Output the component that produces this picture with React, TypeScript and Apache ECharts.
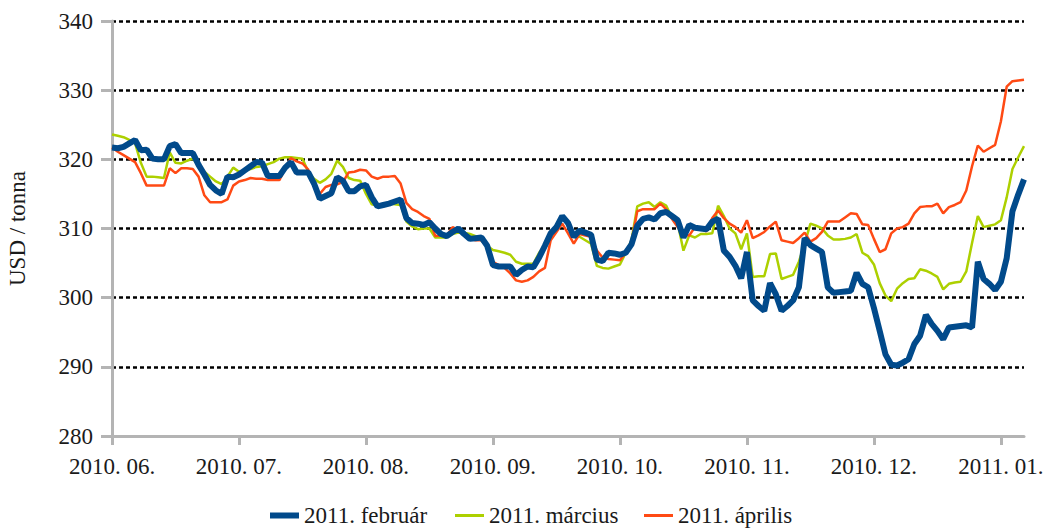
import React, { useEffect, useRef } from "react";
import * as echarts from "echarts";

const MONTH_LABELS = ["2010. 06.", "2010. 07.", "2010. 08.", "2010. 09.", "2010. 10.", "2010. 11.", "2010. 12.", "2011. 01."];
const POINTS_PER_MONTH = 22;
const POINT_COUNT = 159;
const categories = Array.from({ length: POINT_COUNT }, (_, i) => String(i));

const SERIES_NAMES = ["2011. február", "2011. március", "2011. április"];

const febValues = [
  321.7, 321.6, 321.8, 322.3, 322.8, 321.3, 321.4, 320.1, 320.0, 320.0,
  321.9, 322.2, 320.9, 320.9, 320.9, 319.2, 317.8, 316.3, 315.5, 315.0,
  317.5, 317.4, 317.8, 318.4, 319.0, 319.6, 319.5, 317.6, 317.6, 317.6,
  318.8, 319.6, 318.1, 318.1, 318.1, 316.5, 314.3, 314.7, 315.1, 317.4,
  316.9, 315.4, 315.4, 316.1, 316.3, 314.5, 313.2, 313.4, 313.6, 313.9,
  314.2, 311.5, 310.8, 310.7, 310.5, 310.9, 310.0, 309.2, 308.9, 309.5,
  310.0, 309.2, 308.5, 308.6, 308.7, 307.5, 304.7, 304.5, 304.5, 304.5,
  303.3, 304.0, 304.5, 304.4, 305.8, 307.5, 309.3, 310.2, 311.8, 310.8,
  308.8, 309.7, 309.4, 309.1, 305.5, 305.3, 306.5, 306.4, 306.2, 306.5,
  307.7, 310.4, 311.4, 311.6, 311.3, 312.2, 312.4, 311.8, 311.2, 308.7,
  310.5, 310.1, 310.0, 309.9, 311.0, 311.4, 306.8, 305.9, 304.6, 302.8,
  306.6, 299.6, 298.8, 298.1, 302.1, 300.5, 298.1, 298.8, 299.6, 301.5,
  308.6, 307.6, 307.1, 306.6, 301.5, 300.7, 300.8, 300.9, 301.0, 303.6,
  302.0, 301.5, 298.5, 295.2, 291.8, 290.3, 290.2, 290.6, 291.1, 293.3,
  294.5, 297.5, 296.2, 295.2, 294.0, 295.7, 295.8, 295.9, 296.0, 295.7,
  305.2, 302.7, 302.0, 301.1, 302.3, 305.7, 312.5, 314.9, 317.1,
];

const marValues = [
  323.6, 323.4, 323.2, 322.8, 322.3, 319.5, 317.5, 317.5, 317.4, 317.3,
  321.0, 319.5, 319.4, 319.8, 320.1, 319.2, 318.2, 317.5, 316.8, 316.4,
  317.5, 318.8, 318.2, 318.4, 318.6, 318.9, 319.0, 319.3, 319.6, 320.1,
  320.3, 320.3, 320.2, 320.1, 318.2, 317.2, 316.6, 317.1, 317.9, 319.8,
  318.9, 317.3, 317.0, 316.9, 315.0, 313.5, 313.3, 313.5, 313.6, 313.5,
  313.4, 311.0, 310.3, 309.9, 310.0, 310.0, 308.7, 308.7, 308.7, 309.2,
  309.4, 309.4, 309.2, 308.9, 308.3, 307.5, 306.9, 306.7, 306.5, 306.2,
  305.2, 304.9, 304.9, 304.9, 306.5, 307.6, 309.0, 310.3, 311.6, 310.5,
  308.8, 308.8, 308.3, 307.8, 304.6, 304.3, 304.2, 304.5, 304.8, 306.5,
  308.3, 313.2, 313.6, 313.8, 313.1, 313.8, 313.3, 311.6, 310.8, 306.8,
  309.0, 308.7, 309.2, 309.2, 309.3, 313.3, 311.8, 310.0, 309.3, 307.0,
  309.3, 303.0, 303.1, 303.1, 306.3, 306.4, 302.7, 303.0, 303.3, 305.2,
  307.8, 310.7, 310.4, 310.0, 309.0, 308.4, 308.4, 308.5, 308.7, 309.2,
  306.5, 306.0, 304.8, 302.1, 300.3, 299.5, 301.3, 302.1, 302.7, 302.8,
  304.1, 303.9, 303.5, 303.0, 301.2, 302.0, 302.2, 302.3, 303.8, 307.9,
  311.8, 310.2, 310.4, 310.6, 311.2, 314.5, 318.6, 320.3, 321.9,
];

const aprValues = [
  321.7, 321.1, 320.6, 320.1, 319.6, 318.0, 316.2, 316.2, 316.2, 316.2,
  318.7, 318.0, 318.7, 318.7, 318.6, 317.5, 314.8, 313.8, 313.8, 313.8,
  314.2, 316.2, 316.8, 317.0, 317.3, 317.2, 317.2, 317.0, 317.0, 317.0,
  318.7, 320.2, 319.7, 319.4, 318.5, 316.3, 315.0, 316.0, 316.3, 316.4,
  316.7, 318.1, 318.2, 318.5, 318.4, 317.5, 317.2, 317.5, 317.5, 317.6,
  316.5, 313.7, 312.8, 312.4, 311.8, 311.4, 308.9, 309.0, 309.0, 310.2,
  309.8, 309.0, 308.5, 308.3, 308.3, 307.5, 305.2, 304.7, 304.3, 303.5,
  302.5, 302.3, 302.5, 303.0, 303.8, 304.3, 308.3, 309.5, 310.7, 309.3,
  307.8, 309.2, 309.0, 308.8, 306.8, 305.8, 305.6, 305.5, 305.4, 306.5,
  308.0, 312.5, 312.8, 312.8, 312.8, 313.6, 312.8, 311.4, 310.2, 309.1,
  309.0, 310.2, 310.0, 309.6, 311.5, 312.6, 311.5, 310.7, 310.2, 309.4,
  311.2, 308.6, 309.0, 309.5, 310.3, 311.0, 308.3, 308.1, 307.9, 308.6,
  309.4, 308.1, 308.6, 309.5, 311.0, 311.0, 311.0, 311.6, 312.2, 312.1,
  310.6, 310.5, 308.5, 306.6, 307.0, 309.3, 310.0, 310.2, 310.7, 312.2,
  313.1, 313.2, 313.2, 313.6, 312.2, 313.1, 313.4, 313.8, 315.5, 319.0,
  322.0, 321.1, 321.6, 322.1, 325.5, 330.5, 331.3, 331.4, 331.5,
];

const Y_MIN = 280;
const Y_MAX = 340;
const Y_STEP = 10;

const COLORS = ["#014a8b", "#add000", "#ff4a14"];
const FONT = "Liberation Serif, DejaVu Serif, serif";
const AXIS_GRAY = "#b4b4b4";

export default function App() {
  const ref = useRef<HTMLDivElement>(null);

  useEffect(() => {
    if (!ref.current) return;
    const chart = echarts.init(ref.current, undefined, { renderer: "svg" });
    const textStyle = { fontFamily: FONT, fontSize: 23, color: "#1a1a1a" };
    const legendBase = {
      top: 504,
      itemWidth: 29,
      padding: 0,
      textStyle: { ...textStyle },
      selectedMode: false,
    };
    chart.setOption({
      animation: false,
      backgroundColor: "#ffffff",
      textStyle: { fontFamily: FONT },
      grid: { left: 112, right: 22, top: 21, bottom: 93, containLabel: false, outerBoundsMode: "none" },
      legend: [
        { ...legendBase, left: 270, itemHeight: 6, data: [{ name: SERIES_NAMES[0], icon: "rect" }] },
        { ...legendBase, left: 455, itemHeight: 3, data: [{ name: SERIES_NAMES[1], icon: "rect" }] },
        { ...legendBase, left: 644, itemHeight: 3, data: [{ name: SERIES_NAMES[2], icon: "rect" }] },
      ],
      xAxis: {
        type: "category",
        data: categories,
        boundaryGap: false,
        axisLine: { show: true, lineStyle: { color: AXIS_GRAY, width: 3 } },
        axisTick: { show: true, interval: POINTS_PER_MONTH - 1, length: 9, lineStyle: { color: AXIS_GRAY, width: 3 } },
        axisLabel: {
          interval: POINTS_PER_MONTH - 1,
          margin: 19,
          ...textStyle,
          formatter: (_v: string, idx: number) => MONTH_LABELS[Math.round(idx / POINTS_PER_MONTH)] ?? "",
        },
        splitLine: { show: false },
      },
      yAxis: {
        type: "value",
        min: Y_MIN,
        max: Y_MAX,
        interval: Y_STEP,
        name: "USD / tonna",
        nameLocation: "middle",
        nameGap: 83,
        nameRotate: 90,
        nameTextStyle: { ...textStyle },
        axisLine: { show: true, lineStyle: { color: AXIS_GRAY, width: 3 } },
        axisTick: { show: true, length: 11, lineStyle: { color: AXIS_GRAY, width: 3 } },
        axisLabel: { margin: 19, ...textStyle },
        splitLine: { show: true, lineStyle: { color: "#000000", width: 2.5, type: [4, 3] } },
      },
      series: [
        {
          name: SERIES_NAMES[0],
          type: "line",
          data: febValues,
          showSymbol: false,
          symbol: "none",
          z: 5,
          color: COLORS[0],
          lineStyle: { color: COLORS[0], width: 6 },
        },
        {
          name: SERIES_NAMES[1],
          type: "line",
          data: marValues,
          showSymbol: false,
          symbol: "none",
          z: 3,
          color: COLORS[1],
          lineStyle: { color: COLORS[1], width: 2.5 },
        },
        {
          name: SERIES_NAMES[2],
          type: "line",
          data: aprValues,
          showSymbol: false,
          symbol: "none",
          z: 4,
          color: COLORS[2],
          lineStyle: { color: COLORS[2], width: 2.5 },
        },
      ],
    });
    return () => chart.dispose();
  }, []);

  return (
    <div
      ref={ref}
      style={{ position: "fixed", left: 0, top: 0, width: 1046, height: 529, background: "#fff" }}
    />
  );
}
